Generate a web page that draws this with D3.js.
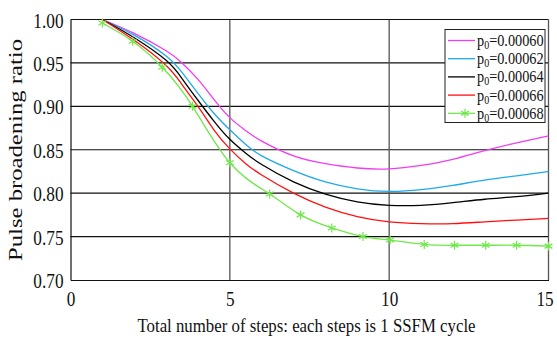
<!DOCTYPE html>
<html>
<head>
<meta charset="utf-8">
<script src="https://cdn.jsdelivr.net/npm/d3@7"></script>
<style>
  html, body { margin: 0; padding: 0; background: #fff; }
  svg { display: block; }
  text { font-family: "Liberation Serif", "Times New Roman", serif; fill: #111; }
</style>
</head>
<body>
<svg id="chart" width="557" height="343"></svg>
<script>
// Pulse broadening ratio versus SSFM step count, one curve per initial power p0
const steps = [1, 2, 3, 3.5, 4, 4.5, 5, 5.5, 6, 7, 8, 9, 10, 11, 12, 13, 14, 15];
const ratioP060 = [1.000, 0.984, 0.964, 0.950, 0.931, 0.908, 0.887, 0.872, 0.860, 0.843, 0.834, 0.829, 0.828, 0.832, 0.839, 0.849, 0.858, 0.866];
const ratioP062 = [1.000, 0.982, 0.958, 0.939, 0.915, 0.892, 0.873, 0.856, 0.843, 0.826, 0.813, 0.805, 0.802, 0.804, 0.809, 0.815, 0.820, 0.825];
const ratioP064 = [1.000, 0.979, 0.953, 0.932, 0.907, 0.883, 0.862, 0.846, 0.833, 0.813, 0.799, 0.790, 0.786, 0.786, 0.789, 0.793, 0.796, 0.800];
const ratioP066 = [1.000, 0.976, 0.947, 0.925, 0.900, 0.873, 0.851, 0.834, 0.821, 0.800, 0.784, 0.773, 0.767, 0.765, 0.765, 0.767, 0.769, 0.771];
// the highest-power run is plotted with markers at its own sample points
const stepsP068 = [1.0, 1.95, 2.88, 3.83, 5.0, 6.25, 7.22, 8.2, 9.18, 10.03, 11.1, 12.05, 13.03, 14.0, 15.0];
const ratioP068 = [0.996, 0.975, 0.945, 0.900, 0.835, 0.799, 0.775, 0.760, 0.750, 0.746, 0.741, 0.740, 0.740, 0.740, 0.739];

const powerLabels = ["0.00060", "0.00062", "0.00064", "0.00066", "0.00068"];
const xTicks = [0, 5, 10, 15];
const yTicks = [0.70, 0.75, 0.80, 0.85, 0.90, 0.95, 1.00];

const colors = ["#f23cf2", "#1ea9ee", "#000000", "#ff1010", "#6fe84a"];

const svg = d3.select("#chart");
const plotLeft = 70.5, plotRight = 548.5, plotTop = 19.5, plotBottom = 280;

const x = d3.scaleLinear().domain([0, 15]).range([plotLeft, plotRight]);
const y = d3.scaleLinear().domain([0.70, 1.00]).range([plotBottom, plotTop]);

const serif = '"Liberation Serif", "Times New Roman", serif';

// squeeze a text node horizontally to mimic the condensed serif face
function condense(sel, factor) {
  sel.each(function () {
    const w = this.getComputedTextLength();
    d3.select(this).attr("textLength", w * factor).attr("lengthAdjust", "spacingAndGlyphs");
  });
}

// horizontal grid
svg.append("g").selectAll("line")
  .data(yTicks.filter(v => v > 0.70 && v < 1.00))
  .join("line")
  .attr("x1", plotLeft).attr("x2", plotRight)
  .attr("y1", d => y(d)).attr("y2", d => y(d))
  .attr("stroke", "#111").attr("stroke-width", 1.2);

// vertical grid
svg.append("g").selectAll("line")
  .data(xTicks.filter(v => v > 0 && v < 15))
  .join("line")
  .attr("x1", d => x(d)).attr("x2", d => x(d))
  .attr("y1", plotTop).attr("y2", plotBottom)
  .attr("stroke", "#555").attr("stroke-width", 1.3);

// frame
svg.append("line").attr("x1", plotLeft).attr("x2", plotRight).attr("y1", plotTop).attr("y2", plotTop)
  .attr("stroke", "#111").attr("stroke-width", 1.2);
svg.append("line").attr("x1", plotRight).attr("x2", plotRight).attr("y1", plotTop).attr("y2", plotBottom)
  .attr("stroke", "#555").attr("stroke-width", 1.3);

// axes
const xAxis = svg.append("g")
  .attr("transform", `translate(0,${plotBottom})`)
  .call(d3.axisBottom(x).tickValues(xTicks).tickSize(0).tickPadding(0).tickFormat(d3.format("d")));
xAxis.select(".domain").attr("stroke", "#111").attr("stroke-width", 1.2);
xAxis.attr("font-family", serif);
xAxis.selectAll("text")
  .attr("dy", null).attr("y", 26)
  .attr("x", d => (d === 15 ? -4 : 0))
  .style("font-size", "21px").style("font-family", serif).attr("fill", "#111")
  .call(condense, 0.82);

const yAxis = svg.append("g")
  .attr("transform", `translate(${plotLeft},0)`)
  .call(d3.axisLeft(y).tickValues(yTicks).tickSize(0).tickPadding(0).tickFormat(d3.format(".2f")));
yAxis.select(".domain").attr("stroke", "#111").attr("stroke-width", 1.2);
yAxis.attr("font-family", serif);
yAxis.selectAll("text")
  .attr("dy", null).attr("x", -7).attr("y", 7.5)
  .style("font-size", "21px").style("font-family", serif).attr("fill", "#111")
  .call(condense, 0.82);

// axis titles
svg.append("text")
  .attr("x", 306.5).attr("y", 332)
  .attr("text-anchor", "middle")
  .style("font-size", "19px")
  .text("Total number of steps: each steps is 1 SSFM cycle")
  .attr("textLength", 338).attr("lengthAdjust", "spacingAndGlyphs");

svg.append("text")
  .attr("transform", "translate(22,150) rotate(-90)")
  .attr("text-anchor", "middle")
  .style("font-size", "19px")
  .text("Pulse broadening ratio")
  .attr("textLength", 222).attr("lengthAdjust", "spacingAndGlyphs");

// curves
const line = d3.line()
  .x(d => x(d[0]))
  .y(d => y(d[1]))
  .curve(d3.curveNatural);

const smooth = [ratioP060, ratioP062, ratioP064, ratioP066];
const plot = svg.append("g");
smooth.forEach((vals, i) => {
  plot.append("path")
    .datum(steps.map((s, k) => [s, vals[k]]))
    .attr("d", line)
    .attr("fill", "none")
    .attr("stroke", colors[i])
    .attr("stroke-width", 1.3);
});

const marked = stepsP068.map((s, k) => [s, ratioP068[k]]);
plot.append("path")
  .datum(marked)
  .attr("d", line)
  .attr("fill", "none")
  .attr("stroke", colors[4])
  .attr("stroke-width", 1.3);

const star = "M0,-4.5V4.5M-3.9,-2.25L3.9,2.25M-3.9,2.25L3.9,-2.25";
plot.append("g").selectAll("path")
  .data(marked)
  .join("path")
  .attr("transform", d => `translate(${x(d[0])},${y(d[1])})`)
  .attr("d", star)
  .attr("fill", "none")
  .attr("stroke", colors[4])
  .attr("stroke-width", 1.2);

// legend
const legend = svg.append("g");
legend.append("rect")
  .attr("x", 445).attr("y", 29.5).attr("width", 100).attr("height", 93)
  .attr("fill", "#fff").attr("stroke", "#222").attr("stroke-width", 1);

powerLabels.forEach((lab, i) => {
  const cy = 40.5 + i * 18.2;
  legend.append("line")
    .attr("x1", 448).attr("x2", 475).attr("y1", cy).attr("y2", cy)
    .attr("stroke", colors[i]).attr("stroke-width", 1.3);
  if (i === 4) {
    legend.append("path")
      .attr("transform", `translate(465,${cy})`)
      .attr("d", star)
      .attr("fill", "none").attr("stroke", colors[4]).attr("stroke-width", 1.2);
  }
  // condensed label: p with subscript 0, then the power value
  const t = legend.append("text")
    .attr("transform", `translate(477,${cy + 5.5}) scale(0.84,1)`)
    .style("font-size", "17px").style("font-family", serif);
  t.append("tspan").text("p");
  t.append("tspan").attr("dy", 3).style("font-size", "12px").text("0");
  t.append("tspan").attr("dy", -3).text("=" + lab);
});
</script>
</body>
</html>
